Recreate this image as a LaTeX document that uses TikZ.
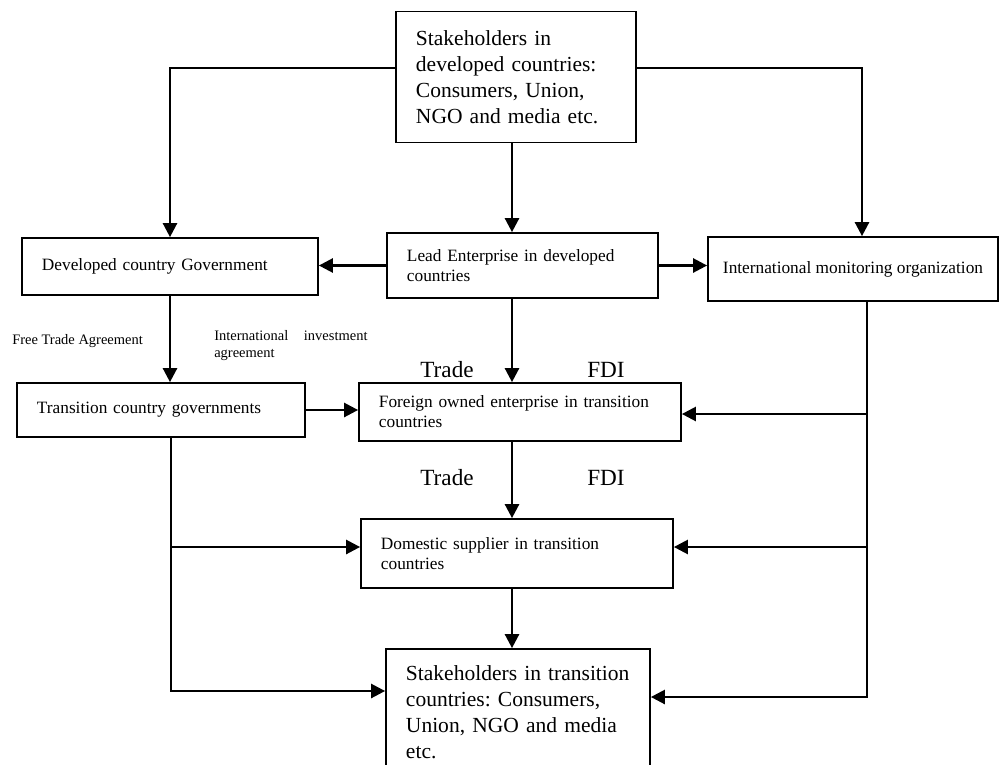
\documentclass[tikz,border=0pt]{standalone}
\usepackage{fontspec}
\setmainfont{Liberation Serif}
\usetikzlibrary{arrows.meta}
\frenchspacing
\tikzset{
  box/.style={draw, line width=1.2pt, align=left, inner xsep=0.5cm, inner ysep=0pt,
    font=\fontsize{12.3}{14.2}\selectfont},
  bigbox/.style={box, font=\fontsize{15.3}{18.5}\selectfont},
  conn/.style={line width=1.8pt},
  arr/.style={conn, -{Triangle[length=10pt,width=10pt]}},
  small/.style={inner sep=0pt, font=\fontsize{10.3}{12.1}\selectfont},
  flow/.style={inner sep=0pt, font=\fontsize{16.5}{19}\selectfont}
}
\begin{document}
\begin{tikzpicture}[x=0.025cm, y=-0.025cm]
\useasboundingbox (0,0) rectangle (1001,764);
\node[bigbox, minimum width=6cm, minimum height=3.275cm, text width=5cm] (stakeDev) at (516,77)
  {Stakeholders in\\developed countries:\\Consumers, Union,\\NGO and media etc.};
\node[box, minimum width=7.4cm, minimum height=1.425cm, text width=6.4cm] (devGov) at (170,266.5)
  {Developed country Government};
\node[box, minimum width=6.775cm, minimum height=1.625cm, text width=5.775cm] (lead) at (522.5,265.5)
  {Lead Enterprise in developed\\countries};
\node[box, inner xsep=0.25cm, minimum width=7.25cm, minimum height=1.6cm] (monitor) at (853,269)
  {International monitoring organization};
\node[box, minimum width=7.2cm, minimum height=1.35cm, text width=6.2cm] (transGov) at (161,410)
  {Transition country governments};
\node[box, minimum width=8.05cm, minimum height=1.45cm, text width=7.05cm] (foreign) at (520,412)
  {Foreign owned enterprise in transition\\countries};
\node[box, minimum width=7.8cm, minimum height=1.725cm, text width=6.8cm] (domestic) at (517,553.5)
  {Domestic supplier in transition\\countries};
\node[bigbox, minimum width=6.6cm, minimum height=3.15cm, text width=5.6cm] (stakeTr) at (518,712)
  {Stakeholders in transition\\countries: Consumers,\\Union, NGO and media\\etc.};
\node[small, anchor=west] (fta) at (12,341) {Free Trade Agreement};
\node[small, anchor=north west, text width=3.83cm, align=left] (iia) at (214,330)
  {International\hfill investment\\agreement};
\foreach \y/\n in {370/1,478/2} {
  \node[flow] (trade\n) at (447,\y) {Trade};
  \node[flow] (fdi\n) at (606,\y) {FDI};
}
\coordinate (spine) at (512,0);
\coordinate (lspine) at (171,0);
\coordinate (rspine) at (867,0);
\coordinate (topRow) at (0,68);
\coordinate (rowF) at (0,414);
\coordinate (rowD) at (0,547);
\coordinate (rowL) at (0,691);
\coordinate (rowR) at (0,697);
\draw[arr] (stakeDev.west |- topRow) -| (devGov.north);
\draw[arr] (stakeDev.east |- topRow) -| ([xshift=0.225cm]monitor.north);
\draw[arr] (stakeDev.south -| spine) -- (lead.north -| spine);
\draw[arr] (lead.west) -- (lead.west -| devGov.east);
\draw[arr] (lead.east) -- (lead.east -| monitor.west);
\draw[arr] (devGov.south) -- (devGov.south |- transGov.north);
\draw[arr] (lead.south -| spine) -- (foreign.north -| spine);
\draw[arr] (transGov.east) -- (transGov.east -| foreign.west);
\draw[arr] (foreign.south -| spine) -- (domestic.north -| spine);
\draw[arr] (domestic.south -| spine) -- (stakeTr.north -| spine);
\draw[arr] (transGov.south -| lspine) |- (rowL -| stakeTr.west);
\draw[arr] (lspine |- rowD) -- (rowD -| domestic.west);
\draw[arr] (monitor.south -| rspine) |- (rowR -| stakeTr.east);
\draw[arr] (rspine |- rowF) -- (rowF -| foreign.east);
\draw[arr] (rspine |- rowD) -- (rowD -| domestic.east);
\end{tikzpicture}
\end{document}
